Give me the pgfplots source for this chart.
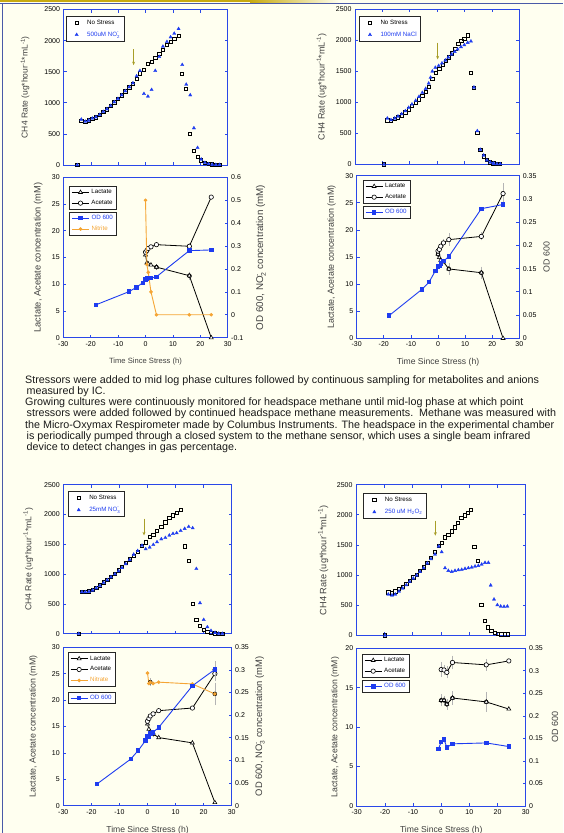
\documentclass[border=0pt]{standalone}
\usepackage{amsmath}
\usepackage{pgfplots}
\pgfplotsset{compat=1.18}
\usetikzlibrary{arrows.meta}
\usepackage{fontspec}
\setmainfont{Liberation Sans}
\definecolor{bg}{HTML}{FFFFF0}
\definecolor{frameblue}{HTML}{2A48E8}
\definecolor{dblue}{HTML}{1E3CF0}
\definecolor{orng}{HTML}{F5A534}
\definecolor{errgray}{HTML}{B4B4B4}
\definecolor{arrowc}{HTML}{A89E28}
\definecolor{labgray}{HTML}{404040}
\definecolor{gold}{HTML}{C8AA10}
\definecolor{border}{HTML}{4A5AA8}
\definecolor{txt}{HTML}{1A1A1A}
\newcommand{\fs}[1]{\fontsize{#1}{#1}\selectfont}

\pgfplotsset{
  panel/.style={
    scale only axis,
    axis line style={draw=frameblue, line width=1pt},
    tick style={draw=frameblue, line width=0.7pt},
    tick align=inside,
    major tick length=3pt,
    tick label style={font=\fs{7}, text=black},
    label style={font=\fs{8.6}, text=labgray},
    /pgf/number format/fixed,
    /pgf/number format/precision=2,
    /pgf/number format/assume math mode=true,
    /pgf/number format/1000 sep={},
    scaled ticks=false,
    legend cell align=left,
    legend style={font=\fs{6.2}, draw=black!85, line width=1pt, fill=white,
      inner xsep=2pt, inner ysep=1pt, row sep=1pt, anchor=north west},
    clip=false,
  },
  ch4/.style={panel, xmin=-30, xmax=30, xtick={-30,-20,...,30}, xticklabels={},
    ymin=0, ymax=2500, ytick={0,500,1000,1500,2000,2500}, xtick pos=both, ytick pos=both,
    ylabel={CH4 Rate (ug*hour$^{\text{-1}}$*mL$^{\text{-1}}$)},
    legend style={row sep=2pt, inner ysep=1.5pt}},
  lowleft/.style={panel, xmin=-30, xmax=30, xtick={-30,-20,...,30}, xtick pos=bottom, ytick pos=left,
    xlabel={Time Since Stress (h)}, ylabel={Lactate, Acetate concentration (mM)}},
  lowright/.style={panel, xmin=-30, xmax=30, axis x line=none, axis y line*=right},
  mk/.style={legend image code/.code={\path[draw=none] (0cm,0cm) -- (0.6cm,0cm); \draw[##1, only marks] plot coordinates {(0.3cm,0cm)};}},
  nostress/.style={only marks, mark=square, mark size=1.6pt, mark options={draw=black, line width=0.7pt}, mk},
  stress/.style={only marks, mark=triangle*, mark size=1.9pt, mark options={draw=dblue, fill=dblue, line width=0.3pt}, mk},
  lac/.style={black, line width=0.8pt, mark=triangle*, mark size=2.3pt, mark options={solid, fill=white, draw=black, line width=0.6pt}},
  ace/.style={black, line width=0.8pt, mark=*, mark size=2.2pt, mark options={solid, fill=white, draw=black, line width=0.6pt}},
  od/.style={dblue, line width=0.9pt, mark=square*, mark size=1.7pt, mark options={solid, fill=dblue}},
  nit/.style={orng, line width=0.9pt, mark=*, mark size=1.3pt, mark options={solid, fill=orng}},
  eb/.style={forget plot, only marks, mark=none, error bars/.cd, y dir=both, y explicit,
    error bar style={draw=errgray, line width=0.6pt}, error mark options={draw=errgray, mark size=1.3pt}},
}

\begin{document}
\begin{tikzpicture}
\fill[bg] (0pt,0pt) rectangle (563pt,-833pt);
\fill[gold] (0pt,0pt) rectangle (250pt,-2.2pt);
\shade[left color=gold, right color=bg] (250pt,0pt) rectangle (340pt,-2.2pt);
\draw[border, line width=0.8pt] (0pt,-3.4pt) -- (563pt,-3.4pt);
\draw[border, line width=0.8pt] (2.7pt,-3.4pt) -- (2.7pt,-833pt);

% ---------- P1 top-left CH4 ----------
\begin{axis}[ch4, at={(63.5pt,-165pt)}, anchor=south west, width=164.2pt, height=155.5pt,
  ylabel style={at={(axis description cs:-0.234,0.5)}, anchor=center, font=\fs{8.5}},
  legend style={at={(0.013,0.958)}}]
\addplot[nostress] coordinates {(-24.95,0) (-23.49,712) (-22.03,696) (-20.81,717) (-19.47,744) (-18.13,765) (-16.79,803) (-15.46,851) (-14.12,894) (-12.78,947) (-11.44,1006) (-10.10,1060) (-8.76,1119) (-7.42,1183) (-5.96,1247) (-4.62,1311) (-3.29,1381) (-2.07,1472) (-0.61,1536) (0.85,1627) (2.19,1659) (3.53,1718) (4.99,1788) (6.33,1857) (7.79,1938) (9.13,1986) (10.47,2023) (12.05,2077) (13.39,1467) (14.85,1226) (16.31,498) (17.65,230) (18.99,134) (20.32,75) (21.66,37) (23.00,21) (24.34,11) (25.68,5) (27.02,5)};
\addlegendentry{No Stress}
\addplot[stress] coordinates {(-24.95,0) (-23.49,733) (-22.03,700) (-20.81,717) (-19.47,750) (-18.13,770) (-16.79,808) (-15.46,856) (-14.12,899) (-12.78,953) (-11.44,1012) (-10.10,1065) (-8.76,1124) (-7.42,1188) (-5.96,1253) (-4.62,1317) (-3.29,1429) (-2.07,1515) (-0.61,1146) (0.85,1103) (2.19,1210) (3.53,1515) (4.99,1740) (6.33,1906) (7.79,1981) (9.13,2056) (10.47,2114) (12.05,2189) (13.39,1611) (14.85,1295) (16.31,1124) (17.65,594) (18.99,278) (20.32,91) (21.66,37) (23.00,16) (24.34,8) (25.68,5) (27.02,5)};
\addlegendentry{\textcolor{dblue}{500uM NO$_{\text{2}}^{\text{-}}$}}
\draw[arrowc, line width=0.8pt, -{Stealth[length=3.5pt,width=3pt]}] (axis cs:-4.38,1857) -- (axis cs:-4.38,1606);
\end{axis}

% ---------- P3 top-right CH4 ----------
\begin{axis}[ch4, at={(355pt,-164.3pt)}, anchor=south west, width=164.3pt, height=155pt,
  ylabel style={at={(axis description cs:-0.203,0.5)}, anchor=center, font=\fs{9}},
  legend style={at={(0.024,0.957)}}]
\addplot[nostress] coordinates {(-19.41,0) (-18.19,710) (-16.86,704) (-15.52,731) (-14.30,758) (-12.96,790) (-11.62,839) (-10.41,887) (-9.19,941) (-7.85,995) (-6.63,1048) (-5.42,1107) (-4.20,1167) (-3.10,1250) (-1.76,1382) (-0.55,1478) (0.79,1545) (2.01,1610) (3.10,1665) (4.32,1725) (5.42,1790) (6.63,1860) (7.73,1945) (8.82,1995) (9.92,2025) (11.14,2080) (12.35,1473) (13.45,1231) (14.66,511) (15.76,231) (16.98,129) (18.07,70) (19.29,32) (20.51,16) (21.72,5) (22.94,5)};
\addlegendentry{No Stress}
\addplot[stress] coordinates {(-19.41,0) (-18.19,742) (-16.86,715) (-15.52,742) (-14.30,774) (-12.96,812) (-11.62,860) (-10.41,914) (-9.19,968) (-7.85,1027) (-6.63,1091) (-5.42,1156) (-4.20,1220) (-3.10,1306) (-2.40,1400) (-1.76,1500) (-0.67,1560) (0.55,1590) (1.76,1630) (2.98,1677) (4.08,1725) (5.29,1774) (6.39,1817) (7.48,1855) (8.70,1892) (9.92,1925) (11.14,1962) (12.35,1984) (13.45,1242) (14.66,538) (15.76,237) (16.98,145) (18.19,65) (19.41,32) (20.63,16) (21.85,5) (23.06,5)};
\addlegendentry{\textcolor{dblue}{100mM NaCl}}
\draw[arrowc, line width=0.8pt, -{Stealth[length=3.5pt,width=3pt]}] (axis cs:0.18,1962) -- (axis cs:0.18,1693);
\end{axis}

% ---------- P2 top-left lower ----------
\begin{axis}[lowleft, at={(63.3pt,-337.7pt)}, anchor=south west, width=164.4pt, height=160.4pt,
  ymin=0, ymax=30, ytick={0,5,10,15,20,25,30},
  ylabel style={at={(axis description cs:-0.152,0.5)}, anchor=center, font=\fs{9.3}},
  xlabel style={at={(axis description cs:0.5,-0.15)}, anchor=center, font=\fs{7.6}},
  legend style={at={(0.035,0.946)}}]
\addplot[eb] coordinates {(16,17.1) +- (0,0.4) (16,11.6) +- (0,0.5) (4,13.2) +- (0,0.3)};
\addplot[lac] coordinates {(0,15.5) (0.5,14.0) (1,13.8) (2,13.6) (4,13.2) (16,11.6) (24,0)};
\addlegendentry{Lactate}
\addplot[ace] coordinates {(0,16.0) (0.5,16.3) (1,16.7) (2,17.0) (4,17.4) (16,17.1) (24,26.3)};
\addlegendentry{Acetate}
\end{axis}
\begin{axis}[lowright, at={(63.3pt,-337.7pt)}, anchor=south west, width=164.4pt, height=160.4pt,
  ymin=-0.1, ymax=0.6, ytick={-0.1,0,0.1,0.2,0.3,0.4,0.5,0.6},
  ylabel={OD 600, NO$_{\text{2}}^{\text{-}}$ concentration (mM)},
  ylabel style={at={(axis description cs:1.2026,0.5)}, anchor=center, font=\fs{9.8}},
  legend style={at={(0.035,0.7855)}}]
\addplot[od] coordinates {(-18,0.044) (-6,0.101) (-3.3,0.12) (-1,0.14) (0,0.155) (0.5,0.159) (1,0.16) (2,0.16) (4,0.166) (16,0.28) (24,0.283)};
\addlegendentry{\textcolor{dblue}{OD 600}}
\addplot[nit] coordinates {(0,0.5) (0.5,0.22) (1,0.185) (2,0.1) (4,0) (16,0) (24,0)};
\addlegendentry{\textcolor{orng}{Nitrite}}
\end{axis}

% ---------- P4 top-right lower ----------
\begin{axis}[lowleft, at={(356.7pt,-338.3pt)}, anchor=south west, width=162.6pt, height=162.6pt,
  ymin=0, ymax=30, ytick={0,5,10,15,20,25,30},
  ylabel style={at={(axis description cs:-0.154,0.5)}, anchor=center, font=\fs{8.9}},
  xlabel style={at={(axis description cs:0.5,-0.1476)}, anchor=center},
  legend style={at={(0.037,0.9735)}}]
\addplot[eb] coordinates {(24,26.7) +- (0,1.7) (4,18.2) +- (0,0.9) (2,17.6) +- (0,0.5) (16,18.8) +- (0,0.5) (4,12.8) +- (0,0.8) (16,12.1) +- (0,0.9) (0,15.5) +- (0,0.7)};
\addplot[lac] coordinates {(0,15.5) (0.5,14.9) (1,14.4) (2,14.1) (4,12.8) (16,12.1) (24,0)};
\addlegendentry{Lactate}
\addplot[ace] coordinates {(0,16.1) (0.5,16.4) (1,17.0) (2,17.6) (4,18.2) (16,18.8) (24,26.7)};
\addlegendentry{Acetate}
\end{axis}
\begin{axis}[lowright, at={(356.7pt,-338.3pt)}, anchor=south west, width=162.6pt, height=162.6pt,
  ymin=0, ymax=0.35, ytick={0,0.05,0.1,0.15,0.2,0.25,0.3,0.35},
  ylabel={OD 600},
  ylabel style={at={(axis description cs:1.1685,0.5)}, anchor=center, font=\fs{8.8}},
  legend style={at={(0.037,0.8137)}}]
\addplot[od] coordinates {(-18,0.049) (-6,0.105) (-3.3,0.121) (-1,0.145) (0,0.155) (0.5,0.156) (1,0.161) (2,0.166) (4,0.176) (16,0.279) (24,0.288)};
\addlegendentry{\textcolor{dblue}{OD 600}}
\end{axis}

% ---------- text ----------
\begin{scope}[every node/.style={anchor=base west, font=\fontsize{10.75}{11}\selectfont, text=txt, inner sep=0pt}]
\node at (25pt,-383.5pt) {Stressors were added to mid log phase cultures followed by continuous sampling for metabolites and anions};
\node at (26.5pt,-394.5pt) {measured by IC.};
\node at (25pt,-405.8pt) {Growing cultures were continuously monitored for headspace methane until mid-log phase at which point};
\node at (26.5pt,-416.8pt) {stressors were added followed by continued headspace methane measurements.\ \ Methane was measured with};
\node at (25pt,-428pt) {the Micro-Oxymax Respirometer made by Columbus Instruments. The headspace in the experimental chamber};
\node at (26.5pt,-439pt) {is periodically pumped through a closed system to the methane sensor, which uses a single beam infrared};
\node at (26.5pt,-450pt) {device to detect changes in gas percentage.};
\end{scope}

% ---------- P5 bottom-left CH4 ----------
\begin{axis}[ch4, at={(63.3pt,-633.7pt)}, anchor=south west, width=168.4pt, height=149pt,
  ylabel style={at={(axis description cs:-0.208,0.5)}, anchor=center, font=\fs{8.6}},
  legend style={at={(0.026,0.956)}}]
\addplot[nostress] coordinates {(-24.53,0) (-23.35,705) (-22.16,699) (-20.85,710) (-19.54,733) (-18.24,772) (-16.93,811) (-15.62,861) (-14.32,906) (-13.01,956) (-11.58,1007) (-10.28,1063) (-9.09,1124) (-7.78,1186) (-6.36,1247) (-4.93,1309) (-3.50,1376) (-1.96,1477) (-0.65,1532) (0.77,1622) (2.08,1661) (3.39,1723) (4.93,1790) (6.36,1868) (7.78,1941) (9.09,1986) (10.40,2025) (11.82,2081) (13.25,1465) (14.68,1225) (16.10,498) (17.41,235) (18.71,134) (20.02,67) (21.33,28) (22.63,11) (24.06,6) (25.37,2) (26.68,2)};
\addlegendentry{No Stress}
\addplot[stress] coordinates {(-24.53,0) (-23.35,700) (-22.16,700) (-20.85,705) (-19.54,728) (-18.24,766) (-16.93,805) (-15.62,855) (-14.32,900) (-13.01,950) (-11.58,1000) (-10.28,1050) (-9.09,1105) (-7.78,1170) (-6.36,1240) (-4.93,1330) (-3.50,1390) (-1.96,1480) (-0.65,1421) (0.77,1449) (2.08,1493) (3.39,1538) (4.93,1588) (6.36,1610) (7.78,1650) (9.09,1678) (10.40,1689) (11.82,1728) (13.25,1762) (14.68,1795) (16.10,1773) (17.41,1090) (18.71,515) (20.02,235) (21.33,112) (22.63,50) (24.06,17) (25.37,5) (26.68,2)};
\addlegendentry{\textcolor{dblue}{25mM NO$_{\text{3}}^{\text{-}}$}}
\draw[arrowc, line width=0.8pt, -{Stealth[length=3.5pt,width=3pt]}] (axis cs:-1.25,1930) -- (axis cs:-1.25,1650);
\end{axis}

% ---------- P6 bottom-right CH4 ----------
\begin{axis}[ch4, at={(356pt,-635.3pt)}, anchor=south west, width=169.7pt, height=150.6pt,
  ylabel style={at={(axis description cs:-0.193,0.5)}, anchor=center, font=\fs{9.2}},
  legend style={at={(0.043,0.943)}}]
\addplot[nostress] coordinates {(-19.75,0) (-18.57,713) (-17.27,697) (-16.09,730) (-14.79,769) (-13.50,802) (-12.20,857) (-11.02,902) (-9.73,962) (-8.55,1007) (-7.37,1073) (-6.07,1128) (-4.77,1200) (-3.48,1290) (-2.06,1388) (-0.77,1482) (0.29,1538) (1.47,1626) (2.65,1670) (3.83,1726) (5.01,1792) (6.07,1869) (7.25,1947) (8.43,1991) (9.49,2036) (10.67,2085) (11.85,1471) (13.14,1239) (14.32,509) (15.50,243) (16.68,133) (17.86,77) (19.04,39) (20.22,22) (21.40,17) (22.57,17) (23.75,17)};
\addlegendentry{No Stress}
\addplot[stress] coordinates {(-19.75,0) (-18.57,680) (-17.27,664) (-16.09,680) (-14.79,730) (-13.50,780) (-12.20,835) (-11.02,891) (-9.73,946) (-8.55,996) (-7.37,1056) (-6.07,1117) (-4.77,1195) (-3.48,1267) (-2.06,1344) (-0.77,1477) (0.29,1383) (1.47,1117) (2.65,1073) (3.83,1056) (5.01,1073) (6.19,1084) (7.37,1090) (8.55,1106) (9.73,1117) (10.91,1128) (12.09,1145) (13.26,1156) (14.44,1178) (15.62,1206) (16.80,1206) (17.62,830) (18.80,597) (19.98,503) (21.16,481) (22.34,476) (23.52,481)};
\addlegendentry{\textcolor{dblue}{250 uM H$_{\text{2}}$O$_{\text{2}}$}}
\draw[arrowc, line width=0.8pt, -{Stealth[length=3.5pt,width=3pt]}] (axis cs:-1.95,1903) -- (axis cs:-1.95,1654);
\end{axis}

% ---------- P7 bottom-left lower ----------
\begin{axis}[lowleft, at={(63.3pt,-805.7pt)}, anchor=south west, width=168.4pt, height=158.4pt,
  ymin=0, ymax=30, ytick={0,5,10,15,20,25,30},
  ylabel style={at={(axis description cs:-0.178,0.5)}, anchor=center, font=\fs{8.8}},
  xlabel style={at={(axis description cs:0.5,-0.153)}, anchor=center},
  legend style={at={(0.026,0.968)}}]
\addplot[eb] coordinates {(2,13.6) +- (0,0.4) (24,25.0) +- (0,1.2)};
\addplot[lac] coordinates {(0,15.5) (0.5,14.5) (1,14.0) (2,13.6) (4,12.9) (16,11.9) (24,0.6)};
\addlegendentry{Lactate}
\addplot[ace] coordinates {(0,16.0) (0.5,16.5) (1,17.0) (2,17.4) (4,18.0) (16,18.5) (24,25.0)};
\addlegendentry{Acetate}
\addlegendimage{nit}
\addlegendentry{\textcolor{orng}{Nitrate}}
\end{axis}
\begin{axis}[lowright, at={(63.3pt,-805.7pt)}, anchor=south west, width=168.4pt, height=158.4pt,
  ymin=0, ymax=0.35, ytick={0,0.05,0.1,0.15,0.2,0.25,0.3,0.35},
  ylabel={OD 600, NO$_{\text{3}}^{\text{-}}$ concentration (mM)},
  ylabel style={at={(axis description cs:1.168,0.5)}, anchor=center, font=\fs{9.4}},
  legend style={at={(0.026,0.72)}}]
\addplot[eb] coordinates {(24,0.301) +- (0,0.015) (24,0.247) +- (0,0.022) (1,0.273) +- (0,0.006)};
\addplot[nit, forget plot] coordinates {(0,0.293) (0.5,0.27) (1,0.273) (2,0.27) (4,0.273) (16,0.269) (24,0.247)};
\addplot[od] coordinates {(-18,0.048) (-6,0.103) (-3.3,0.122) (-0.7,0.144) (0,0.154) (0.5,0.153) (1,0.16) (2,0.162) (4,0.173) (16,0.265) (24,0.301)};
\addlegendentry{\textcolor{dblue}{OD 600}}
\end{axis}

% ---------- P8 bottom-right lower ----------
\begin{axis}[lowleft, at={(356.7pt,-806pt)}, anchor=south west, width=169pt, height=157.7pt,
  ymin=0, ymax=20, ytick={0,5,10,15,20},
  ylabel style={at={(axis description cs:-0.128,0.5)}, anchor=center, font=\fs{8.7}},
  xlabel style={at={(axis description cs:0.5,-0.152)}, anchor=center},
  legend style={at={(0.03,0.964)}}]
\addplot[eb] coordinates {(0,17.3) +- (0,0.8) (1,17.25) +- (0,0.5) (2,16.95) +- (0,0.6) (4,18.2) +- (0,0.7) (16,17.9) +- (0,0.6) (0,13.4) +- (0,0.6) (1,13.4) +- (0,0.4) (2,12.9) +- (0,0.5) (4,13.7) +- (0,0.7) (16,13.2) +- (0,1.1)};
\addplot[lac] coordinates {(0,13.4) (1,13.4) (2,12.9) (4,13.7) (16,13.2) (24,12.3)};
\addlegendentry{Lactate}
\addplot[ace] coordinates {(0,17.3) (1,17.25) (2,16.95) (4,18.2) (16,17.9) (24,18.4)};
\addlegendentry{Acetate}
\end{axis}
\begin{axis}[lowright, at={(356.7pt,-806pt)}, anchor=south west, width=169pt, height=157.7pt,
  ymin=0, ymax=0.35, ytick={0,0.05,0.1,0.15,0.2,0.25,0.3,0.35},
  ylabel={OD 600},
  ylabel style={at={(axis description cs:1.173,0.5)}, anchor=center, font=\fs{9}},
  legend style={at={(0.03,0.799)}}]
\addplot[od] coordinates {(-1,0.1265) (0,0.142) (1,0.148) (2,0.130) (4,0.138) (16,0.140) (24,0.132)};
\addlegendentry{\textcolor{dblue}{OD 600}}
\end{axis}

\pgfresetboundingbox
\path[use as bounding box] (0pt,0pt) rectangle (563pt,-833pt);
\end{tikzpicture}
\end{document}
